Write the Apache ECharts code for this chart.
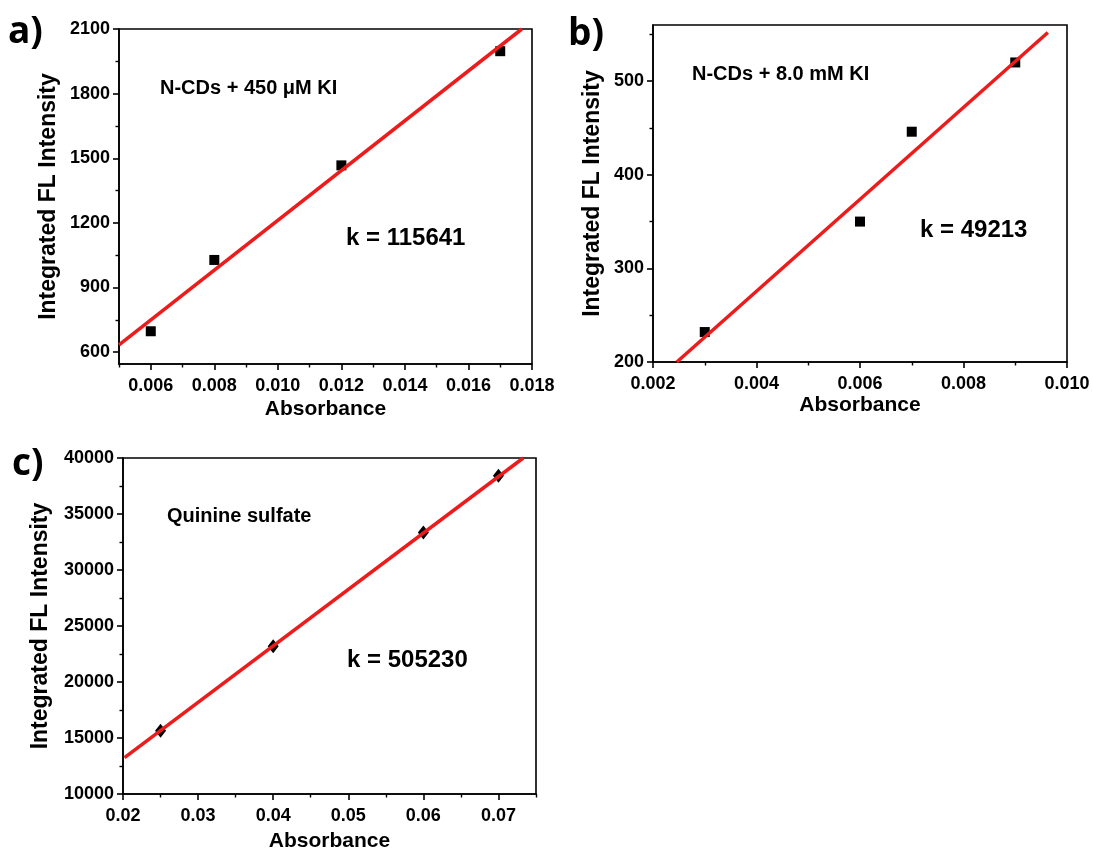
<!DOCTYPE html>
<html>
<head>
<meta charset="utf-8">
<script src="https://cdn.jsdelivr.net/npm/echarts@6/dist/echarts.min.js"></script>
<style>
    html, body { margin: 0; padding: 0; background: #fff; }
    #chart { width: 1093px; height: 855px; }
</style>
</head>
<body>
<div id="chart"></div>
<script>
// 数据：a) N-CDs + 450 uM KI
const pointsA = [[0.006, 697], [0.008, 1028], [0.012, 1467], [0.017, 1997]]
const fitA = [[0.005, 634], [0.01768, 2100]]
const xMajorA = [0.006, 0.008, 0.010, 0.012, 0.014, 0.016, 0.018]
const xMinorA = [0.005, 0.007, 0.009, 0.011, 0.013, 0.015, 0.017]
const yMajorA = [600, 900, 1200, 1500, 1800, 2100]
const yMinorA = [750, 1050, 1350, 1650, 1950]

// b) N-CDs + 8.0 mM KI
const pointsB = [[0.003, 232], [0.006, 350], [0.007, 446], [0.009, 520]]
const fitB = [[0.00246, 200], [0.00963, 552]]
const xMajorB = [0.002, 0.004, 0.006, 0.008, 0.010]
const xMinorB = [0.003, 0.005, 0.007, 0.009]
const yMajorB = [200, 300, 400, 500]
const yMinorB = [250, 350, 450, 550]

// c) Quinine sulfate
const pointsC = [[0.025, 15650], [0.04, 23200], [0.06, 33350], [0.07, 38420]]
const fitC = [[0.0202, 13250], [0.0733, 40000]]
const xMajorC = [0.02, 0.03, 0.04, 0.05, 0.06, 0.07]
const xMinorC = [0.025, 0.035, 0.045, 0.055, 0.065, 0.075]
const yMajorC = [10000, 15000, 20000, 25000, 30000, 35000, 40000]
const yMinorC = [12500, 17500, 22500, 27500, 32500, 37500]

const RED = '#ec1c1c'
const FONT = '"Liberation Sans", Arial, sans-serif'

// 主坐标轴（带标签）
function mainAxis(dim, grid, min, max, ticks, digits, nameGap) {
    return {
        type: 'value', gridIndex: grid, min: min, max: max,
        position: dim == 'x' ? 'bottom' : 'left',
        name: dim == 'x' ? 'Absorbance' : 'Integrated FL Intensity',
        nameLocation: 'middle', nameGap: nameGap,
        nameTextStyle: { fontFamily: FONT, fontWeight: 'bold', fontSize: dim == 'x' ? 21 : 23, color: '#000' },
        splitLine: { show: false },
        axisLine: { show: true, lineStyle: { color: '#000', width: 1.6 } },
        axisTick: { show: true, customValues: ticks, length: 6, lineStyle: { color: '#000', width: 1.6 } },
        axisLabel: {
            customValues: ticks, margin: dim == 'x' ? 13 : 9,
            fontFamily: FONT, fontWeight: 'bold', fontSize: 18, color: '#000',
            formatter: v => digits > 0 ? Number(v).toFixed(digits) : String(Math.round(v))
        }
    }
}
// 次刻度（只画短刻度）
function minorAxis(dim, grid, min, max, ticks) {
    return {
        type: 'value', gridIndex: grid, min: min, max: max,
        position: dim == 'x' ? 'bottom' : 'left',
        splitLine: { show: false },
        axisLine: { show: false },
        axisLabel: { show: false },
        axisTick: { show: true, customValues: ticks, length: 3.5, lineStyle: { color: '#000', width: 1.4 } }
    }
}

function scatter(data, x, y, symbol, size) {
    return {
        type: 'scatter', xAxisIndex: x, yAxisIndex: y, data: data,
        symbol: symbol, symbolSize: size, itemStyle: { color: '#000', opacity: 1 }, z: 2
    }
}
function fitLine(data, x, y) {
    return {
        type: 'line', xAxisIndex: x, yAxisIndex: y, data: data, showSymbol: false,
        lineStyle: { color: RED, width: 3.5 }, z: 3, silent: true
    }
}

function txt(left, top, text, size) {
    return {
        type: 'text', left: left, top: top,
        style: { text: text, fontFamily: FONT, fontWeight: 'bold', fontSize: size, fill: '#000' }
    }
}
function panelLabel(left, top, text) {
    return {
        type: 'text', left: left, top: top,
        style: { text: text, fontFamily: '"Open Sans", sans-serif', fontWeight: 'bold', fontSize: 37, fill: '#000' }
    }
}

const gridStyle = { show: true, borderColor: '#000', borderWidth: 1.6, backgroundColor: 'transparent' }

let myChart = echarts.init(document.getElementById('chart'), null, { renderer: 'canvas' })
let option = {
    animation: false,
    backgroundColor: '#fff',
    grid: [
        Object.assign({ left: 119, top: 29, width: 413, height: 335 }, gridStyle),
        Object.assign({ left: 653, top: 25, width: 414, height: 337 }, gridStyle),
        Object.assign({ left: 123, top: 458, width: 413, height: 336 }, gridStyle)
    ],
    xAxis: [
        mainAxis('x', 0, 0.005, 0.018, xMajorA, 3, 35),
        minorAxis('x', 0, 0.005, 0.018, xMinorA),
        mainAxis('x', 1, 0.002, 0.010, xMajorB, 3, 33),
        minorAxis('x', 1, 0.002, 0.010, xMinorB),
        mainAxis('x', 2, 0.02, 0.075, xMajorC, 2, 37),
        minorAxis('x', 2, 0.02, 0.075, xMinorC)
    ],
    yAxis: [
        mainAxis('y', 0, 545, 2100, yMajorA, 0, 59),
        minorAxis('y', 0, 545, 2100, yMinorA),
        mainAxis('y', 1, 200, 560, yMajorB, 0, 49),
        minorAxis('y', 1, 200, 560, yMinorB),
        mainAxis('y', 2, 10000, 40000, yMajorC, 0, 71),
        minorAxis('y', 2, 10000, 40000, yMinorC)
    ],
    series: [
        scatter(pointsA, 0, 0, 'rect', 10),
        fitLine(fitA, 0, 0),
        scatter(pointsB, 2, 2, 'rect', 10),
        fitLine(fitB, 2, 2),
        scatter(pointsC, 4, 4, 'diamond', [11, 14]),
        fitLine(fitC, 4, 4)
    ],
    graphic: [
        panelLabel(8, 14, 'a)'),
        panelLabel(568, 16, 'b)'),
        panelLabel(12, 446, 'c)'),
        txt(160, 78, 'N-CDs + 450 \u03bcM KI', 20),
        txt(346, 226, 'k = 115641', 24),
        txt(692, 64, 'N-CDs + 8.0 mM KI', 20),
        txt(920, 218, 'k = 49213', 24),
        txt(167, 506, 'Quinine sulfate', 20),
        txt(347, 648, 'k = 505230', 24)
    ]
}
myChart.setOption(option)
</script>
</body>
</html>
